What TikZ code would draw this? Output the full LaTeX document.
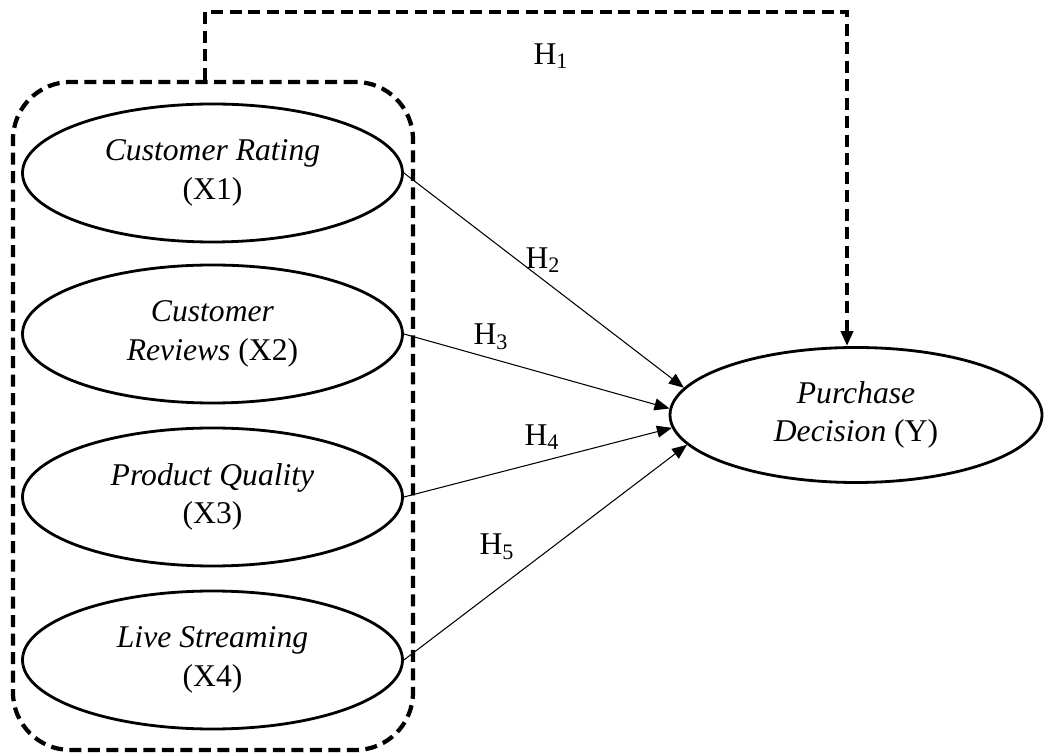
\documentclass[tikz,border=0pt]{standalone}
\usepackage{fontspec}
\setmainfont{Liberation Serif}
\usetikzlibrary{arrows.meta, shapes.geometric}
\tikzset{every node/.style={font=\fontsize{18}{22}\selectfont}}

\begin{document}
\begin{tikzpicture}[>={Triangle[length=0.3cm, width=0.24cm]},
  varnode/.style={ellipse, draw, line width=1.6pt, align=center, inner sep=0pt,
    minimum width=7.6cm, minimum height=2.76cm},
  groupbox/.style={draw, line width=2.4pt, dash pattern=on 0.24cm off 0.13cm,
    rounded corners=1.15cm, minimum width=8cm, minimum height=13.36cm},
  hyplink/.style={->, line width=0.6pt},
  hypdash/.style={->, line width=2.4pt, dash pattern=on 0.24cm off 0.13cm}]
  % Bounding box fixe
  \path[use as bounding box] (0,0) rectangle (20.88,15.04);

  % Group of the independent variables.
  \node[groupbox] (grp) at (4.26,6.72) {};

  % Independent variables.
  \node[varnode] (x1) at (4.25,11.58) {\textit{Customer Rating}\\(X1)};
  \node[varnode] (x2) at (4.25,8.36) {\textit{Customer}\\\textit{Reviews} (X2)};
  \node[varnode] (x3) at (4.25,5.10) {\textit{Product Quality}\\(X3)};
  \node[varnode] (x4) at (4.25,1.84) {\textit{Live Streaming}\\(X4)};

  % Dependent variable.
  \node[varnode, minimum width=7.44cm, minimum height=2.7cm] (y) at (17.12,6.74)
    {\textit{Purchase}\\\textit{Decision} (Y)};

  % Simultaneous path H1.
  \coordinate (tl) at (4.10,14.80);
  \coordinate (tr) at (16.94,14.80);
  \draw[hypdash] (grp.north -| tl) -- (tl) -- (tr) -- (tr |- y.north);

  % Partial paths H2 to H5.
  \draw[hyplink] (x1.east) -- (y.171);
  \draw[hyplink] (x2.east) -- (y.178);
  \draw[hyplink] (x3.east) -- (y.184);
  \draw[hyplink] (x4.east) -- (y.190);

  % Labels.
  \node (h1) at (11.02,13.92) {H\textsubscript{1}};
  \node (h2) at (10.86,9.84) {H\textsubscript{2}};
  \node (h3) at (9.82,8.30) {H\textsubscript{3}};
  \node (h4) at (10.84,6.30) {H\textsubscript{4}};
  \node (h5) at (9.94,4.10) {H\textsubscript{5}};
\end{tikzpicture}
\end{document}
